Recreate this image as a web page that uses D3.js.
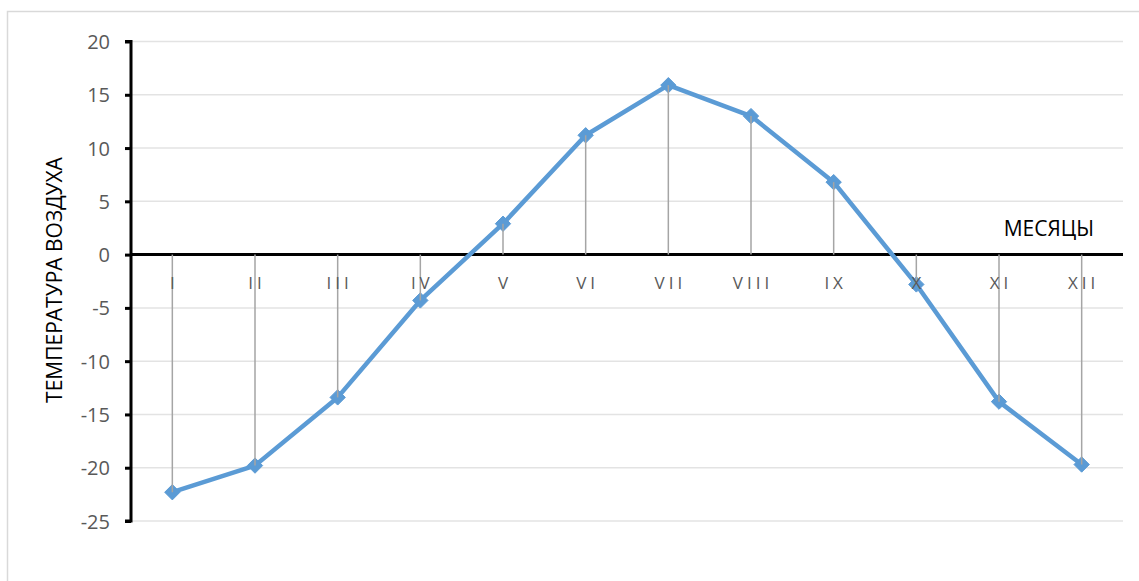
<!DOCTYPE html>
<html><head><meta charset="utf-8">
<script src="https://cdn.jsdelivr.net/npm/d3@7"></script>
<style>
html,body{margin:0;padding:0;background:#fff;overflow:hidden;}
svg{display:block;}
</style></head>
<body>
<script>
const months = ["I","II","III","IV","V","VI","VII","VIII","IX","X","XI","XII"];
const temps = [-22.3, -19.8, -13.4, -4.3, 2.9, 11.2, 15.9, 13.0, 6.8, -2.8, -13.8, -19.7];
const yTicks = [20, 15, 10, 5, 0, -5, -10, -15, -20, -25];
const yTitle = "ТЕМПЕРАТУРА ВОЗДУХА";
const xTitle = "МЕСЯЦЫ";

const W = 1139, H = 581;
const FONT = "'Open Sans', sans-serif";
const svg = d3.select("body").append("svg").attr("width", W).attr("height", H);

// outer chart border
svg.append("rect").attr("x", 7.5).attr("y", 11.5).attr("width", W + 20).attr("height", H + 20)
  .attr("fill", "#fff").attr("stroke", "#d9d9d9").attr("stroke-width", 1.5);

const pLeft = 131, pRight = 1123, pTop = 41.5, pBottom = 521;
const x = d3.scaleBand().domain(months).range([pLeft, pRight]);
const y = d3.scaleLinear().domain([-25, 20]).range([pBottom, pTop]);
const cx = d => x(d) + x.bandwidth() / 2;

// gridlines
svg.append("g").selectAll("line").data(yTicks.filter(t => t !== 0)).join("line")
  .attr("x1", pLeft).attr("x2", pRight).attr("y1", d => y(d)).attr("y2", d => y(d))
  .attr("stroke", "#e3e3e3").attr("stroke-width", 1.5);

// y axis
const yAxis = d3.axisLeft(y).tickValues(yTicks).tickSize(6).tickPadding(15).tickFormat(d => String(d));
const gy = svg.append("g").attr("transform", `translate(${pLeft},0)`).call(yAxis);
gy.select(".domain").attr("stroke", "#000").attr("stroke-width", 3).attr("d", `M-6,${pTop}H0V${pBottom}H-6`);
gy.selectAll(".tick line").attr("stroke", "#000").attr("stroke-width", 3);
gy.selectAll(".tick text").attr("fill", "#595959").style("font-family", FONT)
  .style("font-size", "20px").attr("dy", "0.35em");

// zero line (category axis)
svg.append("line").attr("x1", pLeft).attr("x2", pRight).attr("y1", y(0)).attr("y2", y(0))
  .attr("stroke", "#000").attr("stroke-width", 3);

// line
svg.append("path").datum(temps)
  .attr("fill", "none").attr("stroke", "#5b9bd5").attr("stroke-width", 4.5).attr("stroke-linejoin", "round")
  .attr("d", d3.line().x((d, i) => cx(months[i])).y(d => y(d)));

// markers
svg.append("g").selectAll("path").data(temps).join("path")
  .attr("transform", (d, i) => `translate(${cx(months[i])},${y(d)})`)
  .attr("d", d3.symbol().type(d3.symbolDiamond2).size(150))
  .attr("fill", "#5b9bd5").attr("stroke", "#5b9bd5").attr("stroke-width", 1);

// drop lines (drawn over the markers like the reference)
svg.append("g").selectAll("line").data(months).join("line")
  .attr("x1", d => cx(d)).attr("x2", d => cx(d))
  .attr("y1", y(0)).attr("y2", (d, i) => y(temps[i]))
  .attr("stroke", "#a5a5a5").attr("stroke-width", 1.5);

// category labels
svg.append("g").selectAll("text").data(months).join("text")
  .attr("x", d => cx(d) + 2).attr("y", y(0) + 34)
  .attr("text-anchor", "middle").attr("fill", "#595959")
  .style("font-family", FONT).style("font-size", "17px").style("letter-spacing", "4px")
  .text(d => d);

// titles
svg.append("text").attr("x", 1094).attr("y", 236).attr("text-anchor", "end")
  .style("font-family", FONT).style("font-size", "21px").attr("fill", "#000")
  .text(xTitle);
svg.append("text").attr("transform", `translate(62,280) rotate(-90)`).attr("text-anchor", "middle")
  .style("font-family", FONT).style("font-size", "21px").attr("fill", "#000")
  .text(yTitle);
</script>
</body></html>
